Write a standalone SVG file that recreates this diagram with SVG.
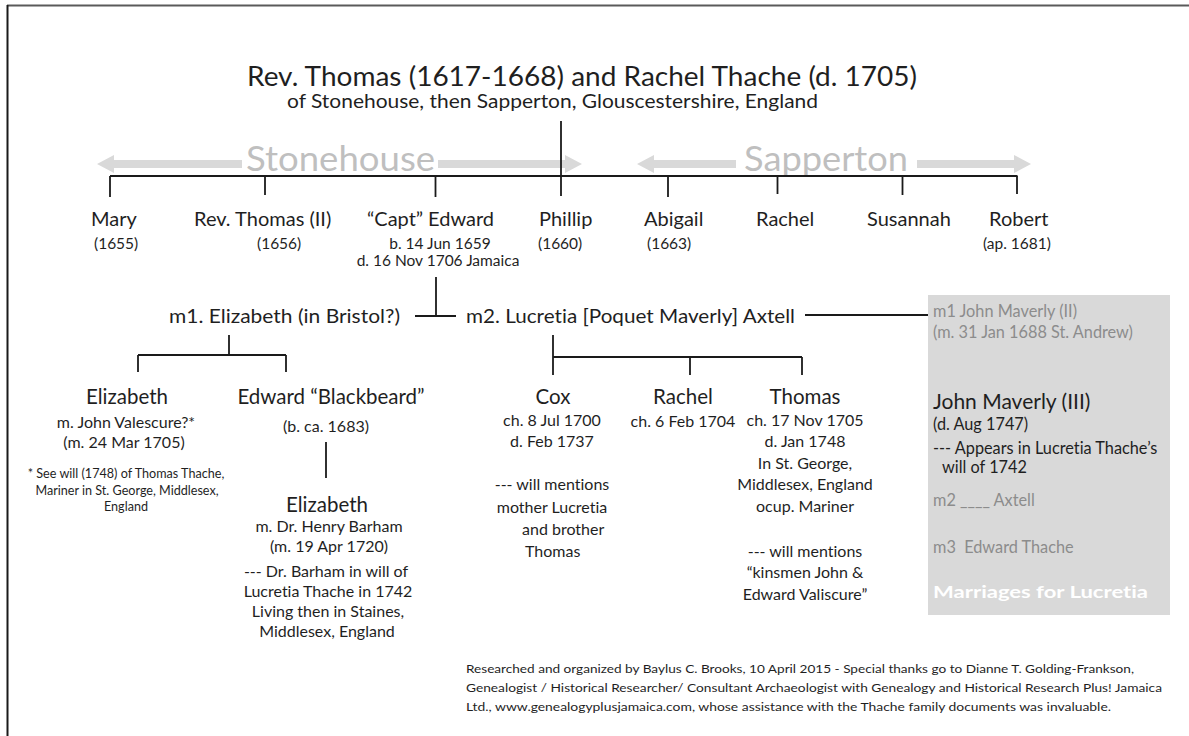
<svg xmlns="http://www.w3.org/2000/svg" width="1189" height="736" viewBox="0 0 1189 736">
<style>
text{font-family:Lato,"Liberation Sans",sans-serif;fill:#1f1f1f;font-variant-ligatures:none;font-feature-settings:"liga" 0}
.title{font-size:27px}
.sub{font-size:18.5px}
.place{font-size:35px;fill:#bfbfbf}
.name{font-size:20px}
.name2{font-size:20.5px}
.yr{font-size:15.5px}
.det{font-size:16px}
.mrow{font-size:20px}
.note{font-size:12.6px}
.cred{font-size:11.7px}
.bx{font-size:16.3px;fill:#8c8c8c}
.bxd{font-size:16.3px}
.bxn{font-size:21px}
.bxt{font-size:17px;font-weight:bold;fill:#ffffff}
.m{text-anchor:middle}
.ln{stroke:#1a1a1a;stroke-width:1.8;fill:none}
.arr{fill:#d9d9d9}
</style>
<rect x="0" y="0" width="1189" height="736" fill="#ffffff"/>
<g id="frame">
<line x1="7" y1="5.5" x2="1189" y2="5.5" stroke="#5a5a5a" stroke-width="2"/>
<line x1="7.5" y1="5" x2="7.5" y2="736" stroke="#1a1a1a" stroke-width="2"/>
</g>
<g id="places">
<polygon class="arr" points="97,164 114,155 114,160 242,160 242,168 114,168 114,173"/>
<polygon class="arr" points="438,160 565,160 565,155 582,164 565,173 565,168 438,168"/>
<polygon class="arr" points="637,164 654,155 654,160 736,160 736,168 654,168 654,173"/>
<polygon class="arr" points="917,160 1014,160 1014,155 1031,164 1014,173 1014,168 917,168"/>
<text class="place" x="246" y="171" textLength="189" lengthAdjust="spacingAndGlyphs">Stonehouse</text>
<text class="place" x="744" y="171" textLength="164" lengthAdjust="spacingAndGlyphs">Sapperton</text>
</g>
<g id="connectors">
<line class="ln" x1="561" y1="121" x2="561" y2="196"/>
<line class="ln" x1="110" y1="176" x2="1017.5" y2="176"/>
<line class="ln" x1="110" y1="176" x2="110" y2="197"/>
<line class="ln" x1="265" y1="176" x2="265" y2="195"/>
<line class="ln" x1="435.5" y1="176" x2="435.5" y2="197"/>
<line class="ln" x1="668" y1="176" x2="668" y2="197"/>
<line class="ln" x1="777.5" y1="176" x2="777.5" y2="194"/>
<line class="ln" x1="902.5" y1="176" x2="902.5" y2="195"/>
<line class="ln" x1="1017" y1="176" x2="1017" y2="194"/>
<line class="ln" x1="436" y1="277" x2="436" y2="316"/>
<line class="ln" x1="415" y1="316" x2="456" y2="316"/>
<line class="ln" x1="805" y1="315" x2="932" y2="315"/>
<line class="ln" x1="229" y1="335" x2="229" y2="355"/>
<line class="ln" x1="138" y1="355" x2="286" y2="355"/>
<line class="ln" x1="138" y1="355" x2="138" y2="372"/>
<line class="ln" x1="286" y1="355" x2="286" y2="372"/>
<line class="ln" x1="326" y1="442" x2="326" y2="478"/>
<line class="ln" x1="553" y1="335" x2="553" y2="375"/>
<line class="ln" x1="553" y1="357" x2="802" y2="357"/>
<line class="ln" x1="690" y1="357" x2="690" y2="375"/>
<line class="ln" x1="802" y1="357" x2="802" y2="375"/>
<line class="ln" x1="1003" y1="347" x2="1003" y2="380"/>
</g>
<g id="parents">
<text class="title" x="247" y="86" textLength="670" lengthAdjust="spacingAndGlyphs">Rev. Thomas (1617-1668) and Rachel Thache (d. 1705)</text>
<text class="sub" x="287" y="108" textLength="531" lengthAdjust="spacingAndGlyphs">of Stonehouse, then Sapperton, Glouscestershire, England</text>
</g>
<g id="mary">
<text class="name" x="91" y="226">Mary</text>
<text class="yr" x="94" y="249">(1655)</text>
</g>
<g id="thomas2">
<text class="name" x="194" y="226">Rev. Thomas (II)</text>
<text class="yr" x="257" y="249">(1656)</text>
</g>
<g id="edward">
<text class="name" x="367" y="226">“Capt” Edward</text>
<text class="yr m" x="440" y="249">b. 14 Jun 1659</text>
<text class="yr m" x="438" y="266">d. 16 Nov 1706 Jamaica</text>
</g>
<g id="phillip">
<text class="name" x="539" y="226">Phillip</text>
<text class="yr" x="538" y="249">(1660)</text>
</g>
<g id="abigail">
<text class="name" x="644" y="226">Abigail</text>
<text class="yr" x="647" y="249">(1663)</text>
</g>
<g id="rachel1">
<text class="name" x="756" y="226">Rachel</text>
</g>
<g id="susannah">
<text class="name" x="867" y="226">Susannah</text>
</g>
<g id="robert">
<text class="name" x="989" y="226">Robert</text>
<text class="yr" x="983" y="249">(ap. 1681)</text>
</g>
<g id="m1">
<text class="mrow" x="169" y="323" textLength="231" lengthAdjust="spacingAndGlyphs">m1. Elizabeth (in Bristol?)</text>
</g>
<g id="m2">
<text class="mrow" x="466" y="323" textLength="329" lengthAdjust="spacingAndGlyphs">m2. Lucretia [Poquet Maverly] Axtell</text>
</g>
<g id="elizabeth1">
<text class="name2 m" x="127" y="404">Elizabeth</text>
<text class="det m" x="126" y="428">m. John Valescure?*</text>
<text class="det m" x="124" y="448">(m. 24 Mar 1705)</text>
<text class="note m" x="126" y="478">* See will (1748) of Thomas Thache,</text>
<text class="note m" x="127" y="495">Mariner in St. George, Middlesex,</text>
<text class="note m" x="126" y="511">England</text>
</g>
<g id="blackbeard">
<text class="name2 m" x="331" y="404">Edward “Blackbeard”</text>
<text class="det m" x="326" y="432">(b. ca. 1683)</text>
</g>
<g id="elizabeth2">
<text class="name2 m" x="327" y="512">Elizabeth</text>
<text class="det m" x="329" y="532">m. Dr. Henry Barham</text>
<text class="det m" x="329" y="552">(m. 19 Apr 1720)</text>
<text class="det m" x="326" y="577">--- Dr. Barham in will of</text>
<text class="det m" x="328" y="597">Lucretia Thache in 1742</text>
<text class="det m" x="328" y="617">Living then in Staines,</text>
<text class="det m" x="327" y="637">Middlesex, England</text>
</g>
<g id="cox">
<text class="name2 m" x="553" y="404">Cox</text>
<text class="det m" x="552" y="426">ch. 8 Jul 1700</text>
<text class="det m" x="552" y="447">d. Feb 1737</text>
<text class="det m" x="552" y="490">--- will mentions</text>
<text class="det m" x="552" y="513">mother Lucretia</text>
<text class="det" x="522" y="535">and brother</text>
<text class="det" x="525" y="557">Thomas</text>
</g>
<g id="rachel2">
<text class="name2 m" x="683" y="404">Rachel</text>
<text class="det m" x="683" y="427">ch. 6 Feb 1704</text>
</g>
<g id="thomas3">
<text class="name2 m" x="805" y="404">Thomas</text>
<text class="det m" x="805" y="426">ch. 17 Nov 1705</text>
<text class="det m" x="805" y="447">d. Jan 1748</text>
<text class="det m" x="805" y="469">In St. George,</text>
<text class="det m" x="805" y="490">Middlesex, England</text>
<text class="det m" x="805" y="512">ocup. Mariner</text>
<text class="det m" x="805" y="557">--- will mentions</text>
<text class="det m" x="805" y="578">“kinsmen John &amp;</text>
<text class="det m" x="805" y="600">Edward Valiscure”</text>
</g>
<g id="marriages">
<rect x="928" y="295" width="242" height="320" fill="#d9d9d9"/>
<text class="bx" x="933" y="317">m1 John Maverly (II)</text>
<text class="bx" x="933" y="338">(m. 31 Jan 1688 St. Andrew)</text>
<text class="bx" x="933" y="506">m2 ____ Axtell</text>
<text class="bx" x="933" y="553" xml:space="preserve">m3  Edward Thache</text>
<text class="bxt" x="933" y="598" textLength="215" lengthAdjust="spacingAndGlyphs">Marriages for Lucretia</text>
</g>
<g id="maverly3">
<text class="bxn" x="933" y="409">John Maverly (III)</text>
<text class="bxd" x="933" y="430">(d. Aug 1747)</text>
<text class="bxd" x="933" y="454">--- Appears in Lucretia Thache’s</text>
<text class="bxd" x="942" y="473">will of 1742</text>
</g>
<g id="credits">
<text class="cred" x="466" y="673" textLength="668" lengthAdjust="spacingAndGlyphs">Researched and organized by Baylus C. Brooks, 10 April 2015 - Special thanks go to Dianne T. Golding-Frankson,</text>
<text class="cred" x="466" y="692" textLength="696" lengthAdjust="spacingAndGlyphs">Genealogist / Historical Researcher/ Consultant Archaeologist with Genealogy and Historical Research Plus! Jamaica</text>
<text class="cred" x="466" y="711" textLength="645" lengthAdjust="spacingAndGlyphs">Ltd., www.genealogyplusjamaica.com, whose assistance with the Thache family documents was invaluable.</text>
</g>
</svg>
